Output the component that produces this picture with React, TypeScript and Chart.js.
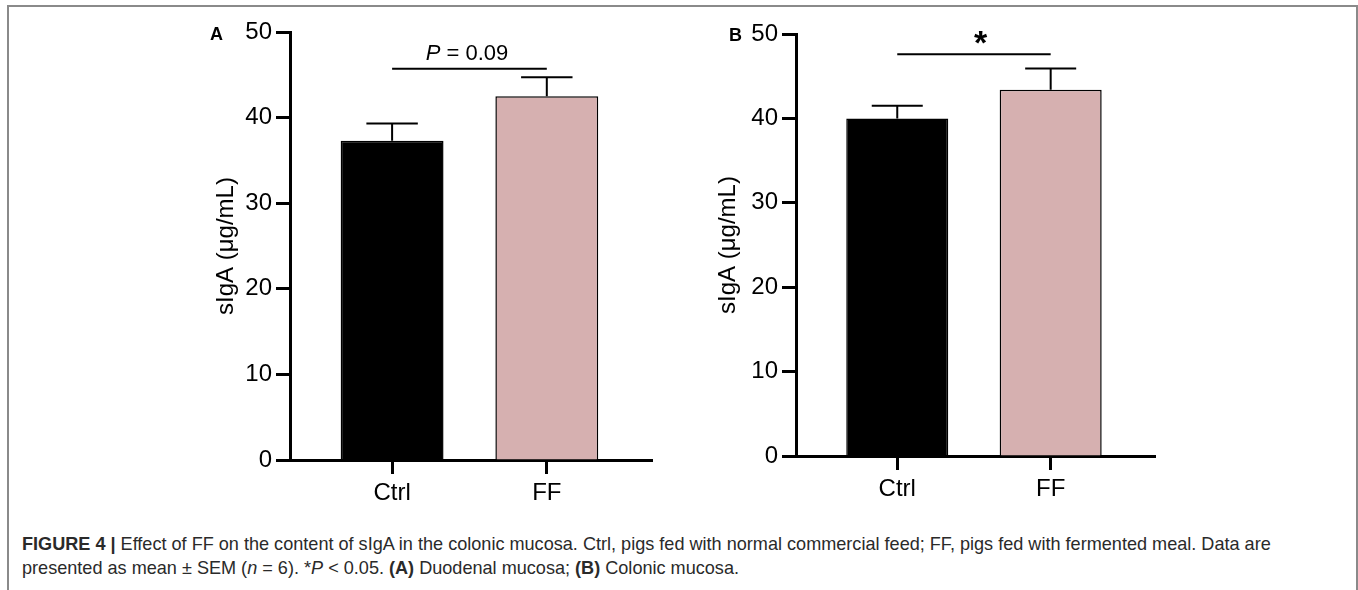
import React, { useEffect, useRef } from 'react';
import { Chart, registerables } from 'chart.js';

Chart.register(...registerables);

// ---- data ----
const categories = ['Ctrl', 'FF'];
const duodenalMean = [37.3, 42.5];
const duodenalSem = [2.0, 2.2];
const colonicMean = [40.0, 43.4];
const colonicSem = [1.5, 2.5];
const yTickValues = [0, 10, 20, 30, 40, 50];
const barColors = ['#000000', '#d6b0b0'];
const panelLetters = ['A', 'B'];
const sigLevels = [45.7, 47.6];
const sigLabels = ['P = 0.09', '*'];
const sigLabelX = [0.484, 0.544];
const yTitle = 'sIgA (μg/mL)';

const FONT = "'Liberation Sans', Arial, Helvetica, sans-serif";

type PanelProps = {
  mean: number[];
  sem: number[];
  sig: number;
  sigLabel: string;
  sigX: number;
  left: number;
  yWidth: number;
  xHeight: number;
  padTop: number;
  padRight: number;
  titlePad: number;
};

function Panel(p: PanelProps) {
  const ref = useRef<HTMLCanvasElement | null>(null);
  useEffect(() => {
    if (!ref.current) return;
    const annot = {
      id: 'annot',
      afterDatasetsDraw(chart: any) {
        const ctx = chart.ctx as CanvasRenderingContext2D;
        const xs = chart.scales.x;
        const ys = chart.scales.y;
        const meta = chart.getDatasetMeta(0);
        ctx.save();
        ctx.strokeStyle = '#000';
        ctx.lineWidth = 2;
        meta.data.forEach((el: any, i: number) => {
          const { x, y, width } = el.getProps(['x', 'y', 'width'], true);
          const yt = ys.getPixelForValue(p.mean[i] + p.sem[i]);
          ctx.beginPath();
          ctx.moveTo(x, y);
          ctx.lineTo(x, yt);
          ctx.moveTo(x - width / 4, yt);
          ctx.lineTo(x + width / 4, yt);
          ctx.stroke();
        });
        const ySig = ys.getPixelForValue(p.sig);
        ctx.beginPath();
        ctx.moveTo(xs.getPixelForValue(0), ySig);
        ctx.lineTo(xs.getPixelForValue(1), ySig);
        ctx.stroke();
        const cx = xs.getPixelForValue(p.sigX);
        ctx.fillStyle = '#000';
        ctx.textBaseline = 'alphabetic';
        ctx.textAlign = 'left';
        if (p.sigLabel.startsWith('P ')) {
          const first = 'P';
          const rest = p.sigLabel.slice(1);
          const fItalic = `italic 22px ${FONT}`;
          const fNormal = `22px ${FONT}`;
          ctx.font = fItalic;
          const w1 = ctx.measureText(first).width;
          ctx.font = fNormal;
          const w2 = ctx.measureText(rest).width;
          const x0 = cx - (w1 + w2) / 2;
          const base = ySig - 9;
          ctx.font = fItalic;
          ctx.fillText(first, x0, base);
          ctx.font = fNormal;
          ctx.fillText(rest, x0 + w1, base);
        } else {
          ctx.font = `bold 34px ${FONT}`;
          const m = ctx.measureText(p.sigLabel);
          const asc = m.actualBoundingBoxAscent;
          const desc = m.actualBoundingBoxDescent;
          const centerY = ySig - 17;
          ctx.textAlign = 'center';
          ctx.fillText(p.sigLabel, cx, centerY + (asc - desc) / 2);
        }
        ctx.restore();
      },
    };
    const tickFont = { family: FONT, size: 24 };
    const chart = new Chart(ref.current, {
      type: 'bar',
      data: {
        datasets: [
          {
            data: categories.map((_, i) => ({ x: i, y: p.mean[i] })) as any,
            backgroundColor: barColors,
            borderColor: '#000',
            borderWidth: 1.5,
            borderSkipped: 'start',
            categoryPercentage: 1,
            barPercentage: 0.665,
          },
        ],
      },
      options: {
        animation: false,
        responsive: false,
        maintainAspectRatio: false,
        devicePixelRatio: 1,
        layout: { padding: { top: p.padTop, right: p.padRight, left: 0, bottom: 0 } },
        plugins: { legend: { display: false }, tooltip: { enabled: false } },
        scales: {
          x: {
            type: 'linear',
            min: -0.66,
            max: 1.68,
            offset: false,
            afterBuildTicks: (s: any) => {
              s.ticks = categories.map((_, i) => ({ value: i }));
            },
            afterFit: (s: any) => {
              s.height = p.xHeight;
            },
            ticks: {
              callback: (v: any) => categories[v as number] ?? '',
              font: tickFont,
              color: '#000',
              padding: 5,
              maxRotation: 0,
              autoSkip: false,
            },
            grid: {
              offset: false,
              drawOnChartArea: false,
              drawTicks: true,
              tickLength: 14,
              tickWidth: 3,
              tickColor: '#000',
            },
            border: { display: true, color: '#000', width: 3 },
          },
          y: {
            min: 0,
            max: 50,
            afterBuildTicks: (s: any) => {
              s.ticks = yTickValues.map((v) => ({ value: v }));
            },
            afterFit: (s: any) => {
              s.width = p.yWidth;
            },
            ticks: { font: tickFont, color: '#000', padding: 4 },
            grid: {
              drawOnChartArea: false,
              drawTicks: true,
              tickLength: 14,
              tickWidth: 3,
              tickColor: '#000',
            },
            border: { display: true, color: '#000', width: 3 },
            title: {
              display: true,
              text: yTitle,
              font: { family: FONT, size: 24 },
              color: '#000',
              padding: { top: p.titlePad, bottom: 0 },
            },
          },
        },
      } as any,
      plugins: [annot],
    });
    return () => chart.destroy();
  }, []);
  return (
    <canvas
      ref={ref}
      width={480}
      height={510}
      style={{ position: 'absolute', left: p.left, top: 0, width: 480, height: 510 }}
    />
  );
}

export default function App() {
  const letterStyle: React.CSSProperties = {
    position: 'absolute',
    font: `bold 18px ${FONT}`,
    lineHeight: '18px',
    color: '#000',
  };
  return (
    <div
      style={{
        position: 'absolute',
        left: 0,
        top: 0,
        width: 1358,
        height: 590,
        overflow: 'hidden',
        background: '#fff',
        fontFamily: FONT,
      }}
    >
      <div
        style={{
          position: 'absolute',
          left: 7,
          top: 5,
          width: 1347,
          height: 620,
          border: '2px solid #8a8a8a',
        }}
      />
      <Panel
        mean={duodenalMean}
        sem={duodenalSem}
        sig={sigLevels[0]}
        sigLabel={sigLabels[0]}
        sigX={sigLabelX[0]}
        left={190}
        yWidth={100}
        xHeight={50}
        padTop={32}
        padRight={18}
        titlePad={22}
      />
      <Panel
        mean={colonicMean}
        sem={colonicSem}
        sig={sigLevels[1]}
        sigLabel={sigLabels[1]}
        sigX={sigLabelX[1]}
        left={690}
        yWidth={106}
        xHeight={54}
        padTop={34}
        padRight={15}
        titlePad={24}
      />
      <div style={{ ...letterStyle, left: 210, top: 25 }}>{panelLetters[0]}</div>
      <div style={{ ...letterStyle, left: 729, top: 26 }}>{panelLetters[1]}</div>
      <div
        style={{
          position: 'absolute',
          left: 22,
          top: 533,
          font: `18.1px ${FONT}`,
          lineHeight: '23.5px',
          color: '#2a2a2a',
          whiteSpace: 'nowrap',
        }}
      >
        <b>FIGURE 4 |</b> Effect of FF on the content of sIgA in the colonic mucosa. Ctrl, pigs fed with normal
        commercial feed; FF, pigs fed with fermented meal. Data are
        <br />
        presented as mean ± SEM (<i>n</i> = 6). *<i>P</i> &lt; 0.05. <b>(A)</b> Duodenal mucosa; <b>(B)</b> Colonic
        mucosa.
      </div>
    </div>
  );
}
